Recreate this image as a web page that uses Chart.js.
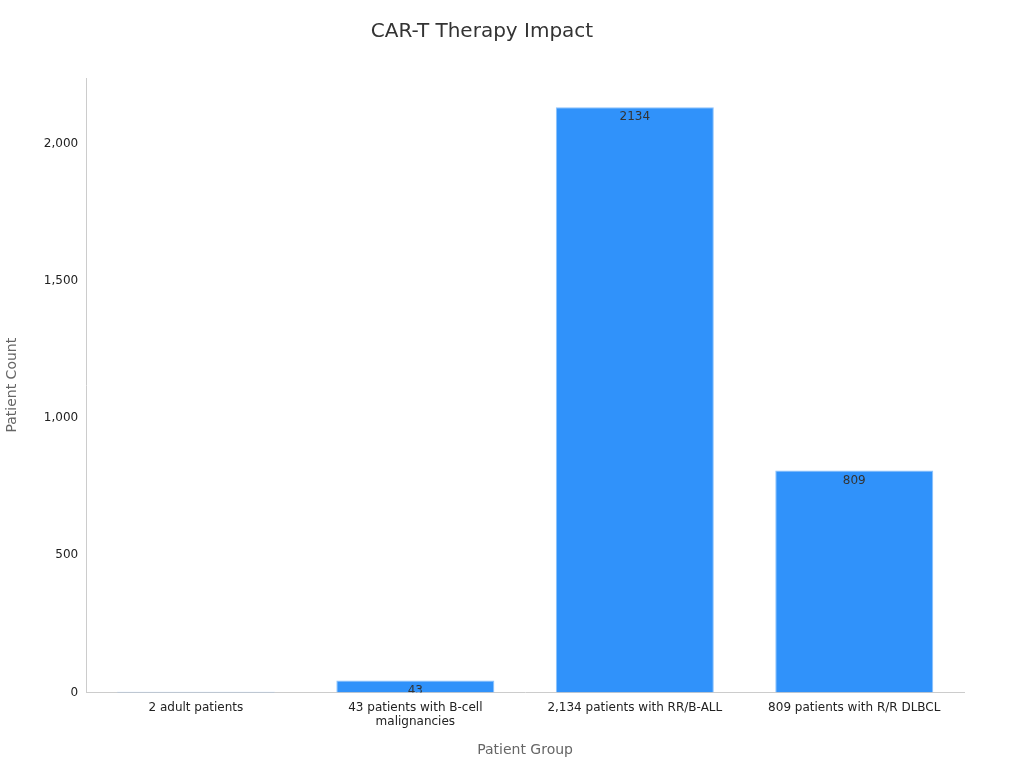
<!DOCTYPE html>
<html><head><meta charset="utf-8">
<script src="https://cdn.jsdelivr.net/npm/chart.js@4"></script>
<style>html,body{margin:0;background:#fff}#w{width:1024px;height:768px}</style>
</head><body><div id="w"><canvas id="c"></canvas></div>
<script>
const categories = [["2 adult patients"], ["43 patients with B-cell", "malignancies"], ["2,134 patients with RR/B-ALL"], ["809 patients with R/R DLBCL"]];
const patientCounts = [2, 43, 2134, 809];
const yTicks = [0, 500, 1000, 1500, 2000];

const labelPlugin = {
  id: 'lbl',
  afterDatasetsDraw(chart) {
    const ctx = chart.ctx;
    const meta = chart.getDatasetMeta(0);
    meta.data.forEach((bar, i) => {
      const w = bar.width;
      ctx.save();
      ctx.beginPath();
      ctx.rect(bar.x - w / 2, bar.y, w, bar.base - bar.y);
      ctx.clip();
      ctx.fillStyle = '#333';
      ctx.font = '12px "DejaVu Sans"';
      ctx.textAlign = 'center';
      ctx.textBaseline = 'middle';
      ctx.fillText(String(patientCounts[i]), bar.x, bar.y + 10);
      ctx.restore();
    });
  }
};

new Chart(document.getElementById('c'), {
  type: 'bar',
  data: {
    labels: categories,
    datasets: [{
      data: patientCounts,
      backgroundColor: '#3092fa',
      borderColor: '#8cc2fb',
      borderWidth: 1
    }]
  },
  options: {
    responsive: true,
    maintainAspectRatio: false,
    animation: false,
    layout: { padding: { top: 10, right: 60, left: 0, bottom: 5 } },
    plugins: {
      legend: { display: false },
      tooltip: { enabled: false },
      title: {
        display: true, text: 'CAR-T Therapy Impact', color: '#333',
        font: { family: 'DejaVu Sans', size: 20, weight: 'normal' },
        padding: { top: 10, bottom: 34 }
      }
    },
    scales: {
      x: {
        categoryPercentage: 1, barPercentage: 0.8,
        grid: { display: false, drawTicks: true, tickLength: 5, color: '#ccc' },
        border: { color: '#ccc' },
        ticks: { color: '#222', font: { family: 'DejaVu Sans', size: 12 }, maxRotation: 0 },
        title: { display: true, text: 'Patient Group', color: '#666', font: { family: 'DejaVu Sans', size: 14 }, padding: { top: 10 } }
      },
      y: {
        min: 0, max: 2240.7,
        afterBuildTicks(s) { s.ticks = yTicks.map(v => ({ value: v })); },
        grid: { display: false, drawTicks: true, tickLength: 5, color: '#ccc' },
        border: { color: '#ccc' },
        ticks: { color: '#222', font: { family: 'DejaVu Sans', size: 12 } },
        title: { display: true, text: 'Patient Count', color: '#666', font: { family: 'DejaVu Sans', size: 14 }, padding: { bottom: 20 } }
      }
    }
  },
  plugins: [labelPlugin]
});
</script></body></html>
